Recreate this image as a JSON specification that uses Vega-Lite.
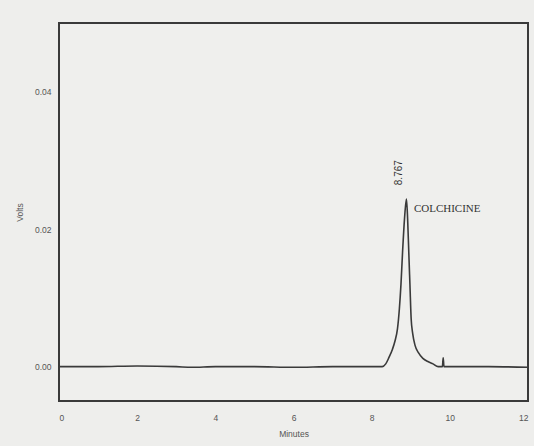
{
  "$schema": "https://vega.github.io/schema/vega-lite/v6.json",
  "width": 469,
  "height": 378,
  "autosize": {"type": "none"},
  "padding": {"left": 59, "top": 23, "right": 6, "bottom": 45},
  "background": "#eeeeec",
  "config": {
    "view": {"stroke": "#3a3a3a", "strokeWidth": 2, "fill": "#efefed"},
    "axis": {
      "labelFont": "Liberation Sans",
      "titleFont": "Liberation Sans",
      "labelFontSize": 8.5,
      "titleFontSize": 8.5,
      "labelColor": "#555555",
      "titleColor": "#555555",
      "titleFontWeight": "normal",
      "ticks": false,
      "domain": false,
      "grid": false
    }
  },
  "datasets": {
    "signal": [
      {"minutes": 0.0, "volts": 0.0},
      {"minutes": 1.0, "volts": 0.0},
      {"minutes": 2.0, "volts": 0.0001},
      {"minutes": 3.0, "volts": 0.0},
      {"minutes": 3.4, "volts": -0.0001},
      {"minutes": 4.0, "volts": 0.0},
      {"minutes": 5.0, "volts": 0.0},
      {"minutes": 6.0, "volts": -0.0001},
      {"minutes": 7.0, "volts": 0.0},
      {"minutes": 8.0, "volts": 0.0},
      {"minutes": 8.27, "volts": 0.0},
      {"minutes": 8.36, "volts": 0.0004},
      {"minutes": 8.44, "volts": 0.0013},
      {"minutes": 8.53, "volts": 0.0025},
      {"minutes": 8.60, "volts": 0.0038},
      {"minutes": 8.66, "volts": 0.0055},
      {"minutes": 8.71, "volts": 0.0085},
      {"minutes": 8.75, "volts": 0.0120},
      {"minutes": 8.79, "volts": 0.0166},
      {"minutes": 8.84, "volts": 0.0215},
      {"minutes": 8.89, "volts": 0.0244},
      {"minutes": 8.92, "volts": 0.0215},
      {"minutes": 8.95, "volts": 0.0166},
      {"minutes": 8.98, "volts": 0.0118},
      {"minutes": 9.01, "volts": 0.0070},
      {"minutes": 9.05, "volts": 0.0048},
      {"minutes": 9.11, "volts": 0.0031},
      {"minutes": 9.20, "volts": 0.0020},
      {"minutes": 9.31, "volts": 0.0012},
      {"minutes": 9.45, "volts": 0.0007},
      {"minutes": 9.57, "volts": 0.0004},
      {"minutes": 9.70, "volts": 0.0},
      {"minutes": 9.81, "volts": 0.0},
      {"minutes": 9.83, "volts": 0.0013},
      {"minutes": 9.85, "volts": 0.0},
      {"minutes": 11.0, "volts": 0.0},
      {"minutes": 12.0, "volts": -0.0001}
    ],
    "annotations": [
      {"minutes": 8.70, "volts": 0.0264, "label": "8.767"}
    ],
    "peaks": [
      {"minutes": 9.08, "volts": 0.0229, "name": "COLCHICINE"}
    ]
  },
  "layer": [
    {
      "data": {"name": "signal"},
      "mark": {"type": "line", "color": "#3a3a3a", "strokeWidth": 1.6, "interpolate": "monotone", "clip": true},
      "encoding": {
        "x": {
          "field": "minutes",
          "type": "quantitative",
          "scale": {"domain": [0, 12], "nice": false, "zero": false},
          "axis": {"values": [0, 2, 4, 6, 8, 10, 12], "format": "d", "labelPadding": 12, "title": "Minutes", "titlePadding": 8}
        },
        "y": {
          "field": "volts",
          "type": "quantitative",
          "scale": {"domain": [-0.005, 0.05], "nice": false, "zero": false},
          "axis": {"values": [0, 0.02, 0.04], "format": ".2f", "labelPadding": 8, "title": "Volts", "titlePadding": 10}
        }
      }
    },
    {
      "data": {"name": "annotations"},
      "mark": {"type": "text", "angle": 270, "align": "left", "baseline": "middle", "fontSize": 10, "font": "Liberation Sans", "color": "#333333"},
      "encoding": {
        "x": {"field": "minutes", "type": "quantitative"},
        "y": {"field": "volts", "type": "quantitative"},
        "text": {"field": "label"}
      }
    },
    {
      "data": {"name": "peaks"},
      "mark": {"type": "text", "align": "left", "baseline": "middle", "fontSize": 11, "font": "Liberation Serif", "color": "#333333"},
      "encoding": {
        "x": {"field": "minutes", "type": "quantitative"},
        "y": {"field": "volts", "type": "quantitative"},
        "text": {"field": "name"}
      }
    }
  ]
}
